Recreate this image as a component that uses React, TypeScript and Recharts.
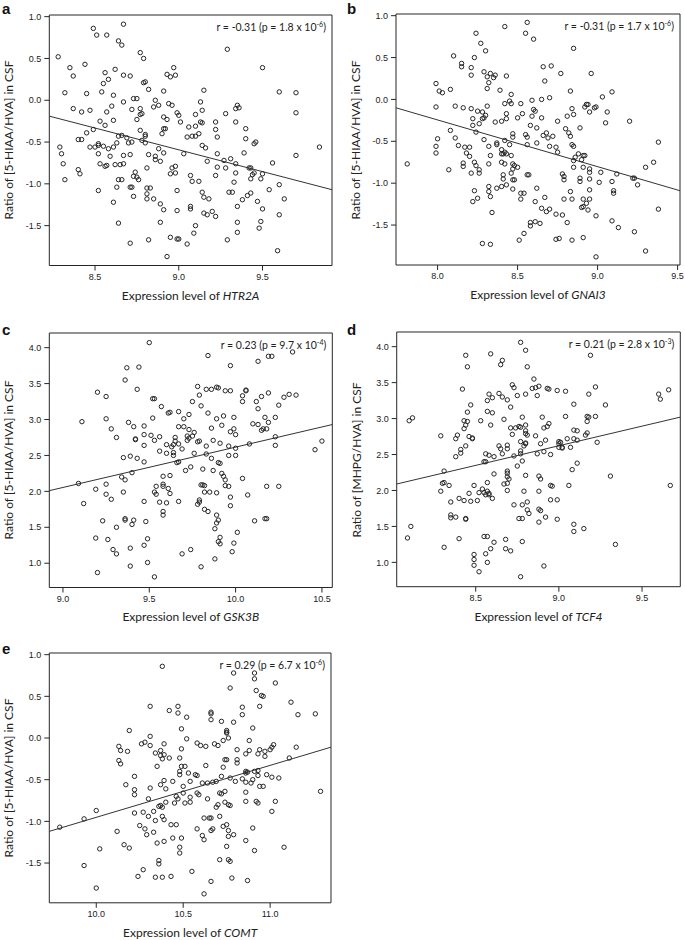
import React from 'react';
import { ScatterChart, Scatter, XAxis, YAxis, ReferenceArea, ReferenceLine } from 'recharts';

type Pt = [number, number];

// Panel a: HTR2A vs [5-HIAA/HVA]
const htr2aPoints: Pt[] = [
  [8.49,0.86],[8.51,0.78],[8.57,0.78],[8.67,0.91],[8.64,0.71],[8.66,0.66],[9.29,0.61],[8.77,0.57],[8.79,0.50],[8.28,0.52],
  [8.35,0.39],[8.44,0.43],[8.62,0.37],[9.50,0.39],[8.37,0.29],[8.56,0.33],[8.58,0.25],[8.67,0.30],[8.71,0.29],[8.55,0.20],
  [8.80,0.22],[8.79,0.21],[8.93,0.31],[8.95,0.28],[8.97,0.39],[8.98,0.30],[8.32,0.09],[8.45,0.08],[8.54,0.10],[8.61,0.06],
  [8.82,0.13],[8.91,0.11],[9.15,0.12],[9.60,0.10],[9.70,0.09],[8.73,0.02],[8.75,0.02],[8.86,0.00],[8.37,-0.10],[8.42,-0.14],
  [8.47,-0.12],[8.57,-0.14],[8.60,-0.07],[8.67,-0.02],[8.72,-0.11],[8.77,-0.10],[8.85,-0.08],[8.88,-0.06],[8.94,-0.04],[8.96,-0.06],
  [8.99,-0.15],[9.00,-0.18],[8.77,-0.17],[8.78,-0.16],[9.13,-0.02],[9.14,-0.12],[9.10,-0.17],[9.28,-0.16],[9.34,-0.10],[9.35,-0.06],
  [9.36,-0.09],[9.70,-0.15],[8.53,-0.25],[8.56,-0.30],[8.61,-0.24],[8.75,-0.23],[8.91,-0.20],[8.93,-0.23],[8.91,-0.34],[8.92,-0.34],
  [9.01,-0.26],[9.06,-0.32],[9.10,-0.31],[9.13,-0.26],[9.14,-0.27],[9.22,-0.26],[9.22,-0.35],[9.34,-0.26],[9.40,-0.34],[8.40,-0.47],
  [8.42,-0.47],[8.45,-0.39],[8.49,-0.35],[8.64,-0.43],[8.66,-0.42],[8.77,-0.36],[8.80,-0.41],[8.80,-0.43],[8.90,-0.40],[9.05,-0.44],
  [9.08,-0.43],[9.10,-0.43],[9.12,-0.40],[9.23,-0.44],[9.40,-0.46],[8.29,-0.56],[8.47,-0.56],[8.50,-0.56],[8.52,-0.54],[8.52,-0.52],
  [8.55,-0.55],[8.58,-0.58],[8.61,-0.56],[8.63,-0.51],[8.69,-0.45],[8.70,-0.51],[8.72,-0.50],[8.78,-0.48],[8.80,-0.51],[8.88,-0.58],
  [8.91,-0.63],[9.14,-0.54],[9.16,-0.57],[9.45,-0.52],[9.46,-0.50],[9.84,-0.56],[8.30,-0.64],[8.31,-0.76],[8.52,-0.64],[8.53,-0.76],
  [8.56,-0.79],[8.59,-0.67],[8.62,-0.77],[8.65,-0.77],[8.67,-0.66],[8.71,-0.65],[8.82,-0.65],[8.86,-0.67],[8.86,-0.71],[8.89,-0.73],
  [9.03,-0.64],[9.17,-0.73],[9.23,-0.64],[9.27,-0.72],[9.28,-0.81],[9.31,-0.70],[9.34,-0.76],[9.39,-0.63],[9.42,-0.81],[9.43,-0.81],
  [9.56,-0.75],[9.70,-0.66],[8.40,-0.83],[8.41,-0.88],[8.57,-0.78],[8.67,-0.76],[8.74,-0.86],[8.73,-0.91],[8.75,-0.92],[8.76,-0.95],
  [8.81,-0.81],[8.96,-0.81],[8.98,-0.87],[8.95,-0.88],[8.98,-0.79],[9.07,-0.90],[9.08,-0.97],[9.12,-0.97],[9.23,-0.80],[9.22,-0.90],
  [9.34,-0.87],[9.33,-0.98],[9.43,-0.94],[9.44,-0.89],[9.45,-0.87],[9.49,-0.94],[9.50,-0.88],[8.32,-0.95],[8.64,-0.95],[8.66,-0.95],
  [8.63,-1.04],[8.71,-1.04],[8.72,-1.04],[8.81,-1.05],[8.83,-1.05],[8.99,-1.08],[8.52,-1.08],[9.14,-1.10],[9.30,-1.10],[9.32,-1.10],
  [9.54,-1.07],[9.60,-1.01],[8.73,-1.15],[8.81,-1.18],[8.81,-1.12],[8.85,-1.18],[9.15,-1.16],[9.18,-1.18],[9.38,-1.19],[9.41,-1.14],
  [9.43,-1.11],[9.47,-1.21],[9.63,-1.18],[8.61,-1.22],[8.89,-1.24],[8.91,-1.31],[8.99,-1.32],[9.07,-1.30],[9.07,-1.27],[9.35,-1.27],
  [9.50,-1.30],[9.15,-1.35],[9.17,-1.37],[9.20,-1.33],[9.22,-1.39],[9.35,-1.46],[9.60,-1.37],[8.64,-1.47],[8.89,-1.46],[9.10,-1.50],
  [9.49,-1.45],[9.48,-1.53],[9.35,-1.58],[9.09,-1.59],[8.82,-1.67],[8.95,-1.64],[9.00,-1.66],[8.99,-1.66],[9.29,-1.67],[8.71,-1.71],
  [9.05,-1.72],[9.59,-1.80],[8.93,-1.87],
];

// Panel b: GNAI3 vs [5-HIAA/HVA]
const gnai3Points: Pt[] = [
  [8.56,0.92],[8.42,0.87],[8.55,0.79],[8.24,0.79],[8.60,0.72],[8.27,0.67],[8.85,0.61],[8.30,0.58],[8.10,0.52],[8.23,0.50],
  [8.15,0.43],[8.15,0.39],[8.21,0.38],[8.66,0.39],[8.71,0.40],[8.77,0.31],[8.96,0.31],[8.21,0.29],[8.29,0.33],[8.31,0.27],
  [8.33,0.31],[8.35,0.26],[8.36,0.29],[8.43,0.28],[8.32,0.20],[8.67,0.22],[7.99,0.19],[8.01,0.10],[8.03,0.08],[8.08,0.12],
  [8.31,0.13],[8.39,0.11],[8.83,0.10],[9.09,0.09],[9.03,0.03],[8.70,0.02],[8.65,0.00],[8.46,0.06],[8.59,-0.01],[7.99,-0.09],
  [8.11,-0.08],[8.16,-0.10],[8.21,-0.11],[8.25,-0.14],[8.31,-0.08],[8.42,-0.05],[8.45,-0.02],[8.46,-0.05],[8.52,-0.05],[8.60,-0.12],
  [8.61,-0.14],[8.84,-0.11],[8.92,-0.09],[8.93,-0.06],[8.94,-0.06],[8.99,-0.09],[8.98,-0.10],[9.06,-0.15],[8.95,-0.15],[9.20,-0.26],
  [9.05,-0.28],[8.28,-0.15],[8.29,-0.22],[8.22,-0.23],[8.22,-0.31],[8.26,-0.29],[8.30,-0.19],[8.28,-0.23],[8.43,-0.17],[8.50,-0.22],
  [8.53,-0.17],[8.59,-0.20],[8.65,-0.22],[8.81,-0.20],[8.85,-0.18],[8.43,-0.23],[8.36,-0.27],[8.40,-0.26],[8.58,-0.31],[8.62,-0.34],
  [8.75,-0.26],[8.89,-0.34],[8.80,-0.35],[8.82,-0.40],[8.08,-0.37],[8.24,-0.39],[8.00,-0.47],[8.11,-0.46],[8.29,-0.48],[8.47,-0.41],
  [8.47,-0.45],[8.42,-0.49],[8.37,-0.52],[8.37,-0.54],[8.55,-0.42],[8.56,-0.45],[8.66,-0.43],[8.68,-0.40],[8.69,-0.46],[8.72,-0.44],
  [8.83,-0.44],[7.99,-0.56],[7.99,-0.64],[8.13,-0.55],[8.17,-0.57],[8.20,-0.57],[8.18,-0.64],[8.20,-0.68],[8.32,-0.56],[8.40,-0.60],
  [8.40,-0.65],[8.41,-0.65],[8.42,-0.63],[8.43,-0.65],[8.45,-0.54],[8.46,-0.67],[8.56,-0.54],[8.62,-0.52],[8.70,-0.56],[8.74,-0.57],
  [8.75,-0.63],[8.84,-0.54],[8.85,-0.56],[8.88,-0.65],[8.86,-0.69],[8.91,-0.67],[8.85,-0.73],[8.90,-0.72],[8.92,-0.67],[8.33,-0.67],
  [8.23,-0.75],[8.24,-0.79],[8.16,-0.76],[8.16,-0.80],[8.07,-0.84],[8.21,-0.88],[8.26,-0.88],[8.26,-0.84],[8.32,-0.77],[8.40,-0.75],
  [8.42,-0.77],[8.47,-0.77],[8.48,-0.79],[8.50,-0.81],[8.47,-0.83],[8.46,-0.88],[8.47,-0.96],[8.48,-0.96],[8.41,-0.90],[8.41,-0.95],
  [8.56,-0.90],[8.57,-0.90],[8.78,-0.89],[8.79,-0.92],[8.79,-0.96],[8.85,-0.81],[8.91,-0.81],[8.95,-0.83],[8.95,-0.87],[8.95,-0.95],
  [8.89,-0.94],[8.89,-0.98],[9.01,-0.99],[9.02,-0.87],[7.81,-0.77],[8.32,-1.04],[8.32,-1.10],[8.37,-1.06],[8.40,-1.04],[8.43,-1.02],
  [8.47,-1.07],[8.52,-1.12],[8.54,-1.12],[8.62,-1.06],[8.83,-1.10],[8.95,-1.08],[9.09,-0.98],[9.10,-1.09],[9.10,-1.12],[9.12,-0.89],
  [9.22,-0.94],[9.23,-0.94],[9.25,-1.02],[9.30,-0.81],[9.35,-0.75],[9.38,-0.51],[8.23,-1.09],[8.22,-1.22],[8.25,-1.18],[8.33,-1.16],
  [8.52,-1.19],[8.61,-1.22],[8.67,-1.17],[8.79,-1.19],[8.84,-1.19],[8.91,-1.19],[8.95,-1.19],[8.93,-1.24],[8.90,-1.29],[8.91,-1.28],
  [8.94,-1.32],[8.99,-1.39],[8.65,-1.30],[8.68,-1.34],[8.70,-1.31],[8.74,-1.37],[8.78,-1.38],[9.38,-1.31],[8.34,-1.35],[8.58,-1.47],
  [8.61,-1.46],[8.64,-1.48],[8.58,-1.51],[8.81,-1.47],[9.09,-1.45],[9.13,-1.53],[9.23,-1.58],[8.54,-1.60],[8.51,-1.68],[8.74,-1.67],
  [8.76,-1.66],[8.84,-1.68],[8.91,-1.65],[8.28,-1.72],[8.33,-1.73],[9.30,-1.81],[8.99,-1.88],
];

// Panel c: GSK3B vs [5-HIAA/HVA]
const gsk3bPoints: Pt[] = [
  [9.50,4.07],[9.84,3.89],[10.19,3.88],[10.21,3.88],[10.33,3.94],[9.37,3.72],[9.44,3.73],[9.97,3.75],[10.13,3.81],[9.36,3.55],
  [9.20,3.38],[9.25,3.32],[9.43,3.42],[9.52,3.29],[9.53,3.29],[9.79,3.34],[9.78,3.46],[9.83,3.42],[9.86,3.42],[9.89,3.45],
  [9.90,3.44],[9.94,3.40],[9.97,3.40],[10.06,3.40],[10.06,3.41],[10.04,3.33],[10.04,3.25],[10.12,3.25],[10.15,3.32],[10.19,3.37],
  [10.28,3.31],[10.31,3.35],[10.35,3.34],[9.75,3.25],[9.57,3.18],[9.61,3.09],[9.62,3.10],[9.67,3.11],[9.73,3.07],[9.80,3.19],
  [9.84,3.09],[9.11,2.97],[9.25,3.01],[9.52,3.02],[9.38,2.96],[9.47,2.91],[9.41,2.90],[9.28,2.87],[9.31,2.75],[9.42,2.72],
  [9.47,2.79],[9.70,3.01],[9.67,2.90],[9.70,2.90],[9.86,2.88],[9.89,3.01],[9.93,3.05],[9.92,2.92],[9.99,3.03],[9.99,2.87],
  [9.97,2.83],[10.00,2.79],[10.10,2.94],[10.13,2.93],[10.17,3.03],[10.19,2.96],[10.13,3.15],[10.15,2.85],[10.16,2.87],[10.18,2.87],
  [10.25,3.20],[10.23,3.03],[10.23,2.76],[10.23,2.64],[10.08,2.66],[10.46,2.58],[10.50,2.70],[9.51,2.78],[9.42,2.73],[9.47,2.64],
  [9.35,2.47],[9.39,2.49],[9.43,2.46],[9.47,2.41],[9.53,2.71],[9.56,2.76],[9.60,2.65],[9.56,2.56],[9.60,2.53],[9.63,2.62],
  [9.64,2.65],[9.65,2.75],[9.65,2.70],[9.64,2.54],[9.64,2.50],[9.66,2.40],[9.67,2.41],[9.67,2.66],[9.69,2.59],[9.72,2.77],
  [9.72,2.71],[9.73,2.74],[9.73,2.86],[9.75,2.77],[9.76,2.82],[9.79,2.70],[9.78,2.69],[9.76,2.53],[9.83,2.63],[9.83,2.52],
  [9.87,2.71],[9.86,2.46],[9.91,2.67],[9.90,2.40],[9.91,2.39],[9.96,2.63],[9.96,2.50],[10.00,2.60],[10.00,2.50],[9.81,2.31],
  [9.71,2.29],[9.74,2.34],[9.87,2.29],[9.09,2.11],[9.12,1.83],[9.25,2.10],[9.19,2.03],[9.25,1.96],[9.28,1.89],[9.34,2.20],
  [9.36,2.16],[9.40,2.26],[9.35,1.99],[9.47,1.86],[9.53,1.99],[9.54,1.96],[9.54,2.07],[9.58,2.07],[9.58,2.10],[9.58,2.21],
  [9.61,2.04],[9.62,2.22],[9.62,1.97],[9.56,1.85],[9.60,1.84],[9.58,1.72],[9.58,1.67],[9.67,1.86],[9.80,2.09],[9.81,2.09],
  [9.82,2.08],[9.82,1.99],[9.85,1.99],[9.79,1.85],[9.79,1.88],[9.78,1.82],[9.82,1.75],[9.84,1.72],[9.92,2.25],[9.93,2.21],
  [9.94,2.16],[9.94,2.08],[9.96,2.07],[9.89,1.98],[9.97,1.92],[9.97,1.80],[10.04,2.18],[10.07,1.95],[10.18,2.07],[10.25,2.07],
  [9.89,1.67],[9.90,1.60],[9.89,1.56],[9.88,1.48],[10.17,1.62],[10.18,1.62],[10.11,1.59],[10.01,1.43],[9.23,1.59],[9.36,1.62],
  [9.36,1.60],[9.41,1.60],[9.40,1.54],[9.31,1.50],[9.48,1.58],[9.19,1.35],[9.26,1.33],[9.49,1.34],[9.47,1.25],[9.29,1.19],
  [9.31,1.13],[9.39,1.21],[9.69,1.13],[9.74,1.19],[9.91,1.36],[9.90,1.30],[9.91,1.27],[9.99,1.28],[9.98,1.16],[9.88,1.06],
  [9.39,0.96],[9.49,1.01],[9.20,0.87],[9.80,0.95],[9.53,0.81],
];

// Panel d: TCF4 vs [MHPG/HVA]
const tcf4Points: Pt[] = [
  [8.77,4.06],[8.44,3.88],[8.59,3.90],[8.80,3.95],[9.19,3.88],[8.45,3.72],[8.81,3.72],[8.66,3.81],[8.65,3.75],[8.42,3.41],
  [8.72,3.47],[8.73,3.43],[8.85,3.55],[8.84,3.42],[8.86,3.43],[8.88,3.45],[8.87,3.32],[8.93,3.42],[8.94,3.41],[8.99,3.39],
  [9.04,3.38],[9.22,3.44],[9.18,3.34],[8.58,3.34],[8.64,3.35],[8.66,3.30],[8.60,3.29],[8.57,3.25],[8.80,3.34],[8.75,3.32],
  [8.69,3.26],[9.60,3.34],[9.61,3.27],[9.66,3.40],[8.47,3.19],[9.28,3.19],[9.09,3.20],[8.71,3.16],[8.57,3.10],[8.60,3.08],
  [8.59,2.91],[8.53,2.97],[8.43,2.97],[8.45,2.96],[8.10,2.97],[8.12,3.01],[8.29,2.76],[8.30,2.10],[8.31,2.11],[8.29,1.99],
  [8.31,2.27],[8.31,1.21],[8.34,2.07],[8.35,1.84],[8.35,1.66],[8.35,1.62],[8.38,1.63],[8.40,1.33],[8.38,2.72],[8.38,2.47],
  [8.39,2.77],[8.41,2.52],[8.40,1.89],[8.41,2.57],[8.43,2.86],[8.44,2.91],[8.43,1.86],[8.44,1.60],[8.44,1.61],[8.44,2.62],
  [8.45,3.09],[8.46,2.75],[8.48,2.73],[8.48,2.72],[8.46,1.96],[8.47,1.85],[8.49,1.11],[8.49,1.04],[8.49,0.96],[8.52,0.87],
  [8.49,2.07],[8.51,1.86],[8.52,1.97],[8.54,2.02],[8.55,1.97],[8.56,1.94],[8.57,1.99],[8.55,1.36],[8.57,1.36],[8.56,1.12],
  [8.57,1.00],[8.59,1.19],[8.61,1.28],[8.55,2.40],[8.56,2.40],[8.56,2.51],[8.58,2.49],[8.57,2.11],[8.58,1.96],[8.58,1.94],
  [8.60,1.89],[8.61,2.47],[8.61,2.23],[8.64,2.62],[8.65,2.58],[8.66,2.51],[8.67,2.09],[8.67,2.99],[8.69,2.63],[8.69,2.58],
  [8.69,2.27],[8.69,2.24],[8.69,2.19],[8.70,2.16],[8.69,2.00],[8.69,2.10],[8.68,1.32],[8.68,1.19],[8.71,1.16],[8.71,2.87],
  [8.72,2.78],[8.74,2.87],[8.73,2.48],[8.75,2.34],[8.76,2.89],[8.77,2.68],[8.77,2.55],[8.77,2.51],[8.77,2.88],[8.78,3.02],
  [8.73,1.80],[8.76,1.61],[8.78,1.61],[8.78,1.80],[8.78,1.29],[8.77,0.80],[8.79,2.62],[8.78,2.41],[8.79,1.99],[8.80,2.91],
  [8.80,2.83],[8.80,2.79],[8.81,2.77],[8.80,2.66],[8.80,2.65],[8.80,2.21],[8.81,1.84],[8.81,1.73],[8.82,1.68],[8.86,2.76],
  [8.87,2.51],[8.88,1.74],[8.88,1.56],[8.89,2.65],[8.88,2.20],[8.89,2.16],[8.88,1.99],[8.89,1.72],[8.90,3.02],[8.91,2.87],
  [8.92,2.70],[8.91,2.54],[8.92,1.63],[8.91,0.95],[8.93,2.89],[8.94,2.93],[8.95,2.50],[8.95,2.07],[8.96,2.06],[8.95,1.87],
  [8.99,1.87],[8.99,1.60],[9.00,2.60],[9.00,2.65],[9.00,2.68],[9.01,2.67],[9.02,2.60],[9.02,2.59],[9.04,3.03],[9.05,2.72],
  [9.06,2.07],[9.07,2.60],[9.08,2.29],[9.09,2.84],[9.09,2.72],[9.09,1.53],[9.09,1.43],[9.11,2.38],[9.11,2.83],[9.11,2.70],
  [9.15,1.47],[9.16,2.77],[9.17,2.80],[9.17,2.96],[9.17,3.03],[9.18,3.02],[9.22,3.03],[9.23,2.67],[9.31,2.20],[9.34,1.25],
  [9.67,2.07],[8.09,1.34],[8.11,1.50],
];

// Panel e: COMT vs [5-HIAA/HVA]
const comtPoints: Pt[] = [
  [10.38,0.86],[10.79,0.78],[10.91,0.78],[10.91,0.71],[10.77,0.60],[11.03,0.66],[10.92,0.57],[10.95,0.51],[10.96,0.50],[11.12,0.43],
  [10.84,0.37],[10.94,0.38],[11.16,0.28],[11.26,0.29],[10.31,0.38],[10.42,0.33],[10.47,0.38],[10.52,0.25],[10.47,0.30],[10.66,0.29],
  [10.66,0.31],[10.66,0.22],[10.72,0.20],[10.79,0.19],[10.84,0.28],[10.19,0.09],[10.49,0.11],[10.52,-0.01],[10.60,-0.09],[10.68,-0.07],
  [10.70,-0.09],[10.76,0.00],[10.73,-0.03],[10.75,0.06],[10.75,0.09],[10.75,0.07],[10.88,-0.03],[10.90,0.12],[10.31,0.02],[10.31,-0.09],
  [10.26,-0.07],[10.28,-0.05],[10.39,-0.07],[10.58,-0.06],[10.63,-0.10],[10.81,-0.14],[10.86,-0.19],[10.88,-0.15],[10.93,-0.19],[10.94,-0.14],
  [10.97,-0.22],[10.97,-0.16],[11.01,-0.11],[11.02,-0.08],[11.00,-0.14],[11.11,-0.24],[11.15,-0.11],[10.13,-0.10],[10.14,-0.15],[10.18,-0.16],
  [10.13,-0.27],[10.14,-0.31],[10.34,-0.18],[10.37,-0.15],[10.37,-0.21],[10.39,-0.20],[10.38,-0.25],[10.42,-0.24],[10.35,-0.34],[10.49,-0.13],
  [10.48,-0.24],[10.49,-0.34],[10.51,-0.34],[10.48,-0.40],[10.48,-0.44],[10.63,-0.33],[10.73,-0.35],[10.74,-0.26],[10.75,-0.26],[10.81,-0.30],
  [10.81,-0.26],[10.86,-0.40],[10.87,-0.41],[10.91,-0.40],[10.93,-0.39],[10.93,-0.45],[10.98,-0.44],[11.01,-0.47],[11.05,-0.48],[10.17,-0.56],
  [10.22,-0.46],[10.31,-0.60],[10.37,-0.56],[10.39,-0.51],[10.40,-0.61],[10.44,-0.52],[10.50,-0.58],[10.50,-0.66],[10.53,-0.42],[10.54,-0.52],
  [10.57,-0.44],[10.58,-0.45],[10.61,-0.54],[10.64,-0.54],[10.67,-0.53],[10.69,-0.52],[10.72,-0.46],[10.77,-0.48],[10.80,-0.52],[10.84,-0.49],
  [10.86,-0.42],[10.86,-0.53],[10.89,-0.54],[10.90,-0.50],[10.94,-0.58],[10.96,-0.58],[11.29,-0.64],[11.03,-0.76],[9.79,-1.07],[9.93,-0.97],
  [10.00,-0.87],[10.22,-0.68],[10.22,-0.62],[10.27,-0.89],[10.30,-0.73],[10.33,-0.88],[10.36,-0.82],[10.37,-0.81],[10.38,-0.83],[10.40,-0.77],
  [10.45,-0.78],[10.46,-0.70],[10.47,-0.73],[10.51,-0.78],[10.54,-0.77],[10.54,-0.71],[10.58,-0.66],[10.59,-0.68],[10.64,-0.73],[10.69,-0.83],
  [10.70,-0.80],[10.71,-0.66],[10.72,-0.67],[10.74,-0.64],[10.74,-0.77],[10.76,-0.80],[10.77,-0.81],[10.86,-0.65],[10.86,-0.76],[10.92,-0.76],
  [10.93,-0.78],[11.01,-0.88],[10.12,-1.12],[10.16,-1.28],[10.19,-1.32],[10.22,-0.90],[10.25,-1.05],[10.28,-1.09],[10.29,-1.16],[10.30,-0.94],
  [10.33,-1.13],[10.34,-0.99],[10.35,-1.26],[10.38,-0.94],[10.39,-0.98],[10.39,-1.24],[10.43,-1.04],[10.44,-1.20],[10.49,-1.20],[10.48,-1.31],
  [10.48,-1.38],[10.46,-1.04],[10.58,-1.09],[10.61,-1.17],[10.62,-1.22],[10.66,-1.11],[10.67,-1.09],[10.62,-0.96],[10.65,-0.96],[10.66,-0.96],
  [10.71,-0.94],[10.73,-1.06],[10.75,-1.04],[10.76,-1.11],[10.76,-1.18],[10.79,-1.16],[10.75,-1.30],[10.71,-1.46],[10.76,-1.46],[10.77,-1.48],
  [10.86,-1.23],[10.90,-1.08],[10.91,-1.35],[11.08,-1.31],[9.93,-1.53],[10.02,-1.33],[10.00,-1.80],[10.24,-1.66],[10.27,-1.58],[10.36,-1.47],
  [10.36,-1.51],[10.34,-1.67],[10.38,-1.67],[10.43,-1.66],[10.55,-1.60],[10.66,-1.72],[10.78,-1.68],[10.87,-1.71],[10.62,-1.87],
];

// Axis ticks
const ticksRatioLow = [-1.5, -1.0, -0.5, 0.0, 0.5, 1.0];
const ticksRatioHigh = [1.0, 1.5, 2.0, 2.5, 3.0, 3.5, 4.0];
const ticksHTR2A = [8.5, 9.0, 9.5];
const ticksGNAI3 = [8.0, 8.5, 9.0, 9.5];
const ticksGSK3B = [9.0, 9.5, 10.0, 10.5];
const ticksTCF4 = [8.5, 9.0, 9.5];
const ticksCOMT = [10.0, 10.5, 11.0];

// Axis domains
const domainHTR2A: Pt = [8.227, 9.915];
const domainGNAI3: Pt = [7.74, 9.515];
const domainGSK3B: Pt = [8.921, 10.56];
const domainTCF4: Pt = [8.025, 9.73];
const domainCOMT: Pt = [9.73, 11.35];
const domainRatioLow: Pt = [-1.977, 1.02];
const domainRatioHigh: Pt = [0.662, 4.204];

// Fitted regression line end values (y at domain ends)
const fitHTR2A: Pt = [-0.19, -1.07];
const fitGNAI3: Pt = [-0.10, -1.09];
const fitGSK3B: Pt = [2.01, 2.93];
const fitTCF4: Pt = [2.09, 3.02];
const fitCOMT: Pt = [-1.12, -0.11];

// Correlation annotations: [r, p mantissa, p exponent]
const statsHTR2A = ['-0.31', '1.8', '-6'];
const statsGNAI3 = ['-0.31', '1.7', '-6'];
const statsGSK3B = ['0.23', '9.7', '-4'];
const statsTCF4 = ['0.21', '2.8', '-3'];
const statsCOMT = ['0.29', '6.7', '-6'];

interface Box { x0: number; x1: number; y0: number; y1: number; }
interface Spec {
  letter: string; gene: string; yLabel: string; points: Pt[];
  xDomain: Pt; yDomain: Pt; xTicks: number[]; yTicks: number[];
  fit: Pt; stats: string[]; box: Box; col: 0 | 1; letterTop: number;
}

const INK = '#262626';
const tickFont = '"Liberation Sans", Arial, sans-serif';
const labelFont = 'Lato, "Open Sans", sans-serif';

const Ring = (props: any) => {
  const { cx, cy } = props;
  if (cx == null || cy == null) return null;
  return <circle cx={cx} cy={cy} r={2.2} fill="none" stroke={INK} strokeWidth={1} />;
};

function Panel({ s }: { s: Spec }) {
  const colLeft = s.col === 0 ? 0 : 345;
  const colWidth = s.col === 0 ? 345 : 340;
  const mTop = 15;
  const xAxisH = 40;
  const top = s.box.y0 - mTop;
  const height = s.box.y1 - s.box.y0 + mTop + xAxisH;
  const yAxisW = s.box.x0 - colLeft;
  const mRight = colLeft + colWidth - s.box.x1;
  const data = s.points.map(([x, y]) => ({ x, y }));
  const cx = (s.box.x0 + s.box.x1) / 2;
  const cy = (s.box.y0 + s.box.y1) / 2;
  return (
    <>
      <div style={{ position: 'absolute', left: colLeft, top, width: colWidth, height }}>
        <ScatterChart width={colWidth} height={height} margin={{ top: mTop, right: mRight, bottom: 0, left: 0 }}>
          <XAxis
            type="number" dataKey="x" domain={s.xDomain} ticks={s.xTicks} allowDataOverflow interval={0}
            axisLine={false} tickLine={{ stroke: INK }} tickSize={5} tickMargin={3} height={xAxisH}
            tick={{ fontSize: 9, fill: '#222', fontFamily: tickFont }} tickFormatter={(v: number) => v.toFixed(1)}
          />
          <YAxis
            type="number" dataKey="y" domain={s.yDomain} ticks={s.yTicks} allowDataOverflow interval={0}
            axisLine={false} tickLine={{ stroke: INK }} tickSize={5} tickMargin={3} width={yAxisW}
            tick={{ fontSize: 9, fill: '#222', fontFamily: tickFont }} tickFormatter={(v: number) => v.toFixed(1)}
          />
          <ReferenceArea x1={s.xDomain[0]} x2={s.xDomain[1]} y1={s.yDomain[0]} y2={s.yDomain[1]}
            fill="none" fillOpacity={0} stroke={INK} strokeWidth={1} ifOverflow="visible" />
          <ReferenceLine segment={[{ x: s.xDomain[0], y: s.fit[0] }, { x: s.xDomain[1], y: s.fit[1] }]}
            stroke="#333" strokeWidth={1} ifOverflow="visible" />
          <Scatter data={data} shape={Ring} isAnimationActive={false} />
        </ScatterChart>
      </div>
      <div style={{ position: 'absolute', left: colLeft + 2, top: s.letterTop, fontFamily: '"Liberation Sans", Arial, sans-serif', fontWeight: 'bold', fontSize: 15, lineHeight: '16px', color: '#111' }}>
        {s.letter}
      </div>
      <div style={{ position: 'absolute', right: 685 - (s.box.x1 - 6), top: s.box.y0 + 5, fontFamily: labelFont, fontSize: 10.5, lineHeight: '14px', color: '#222', whiteSpace: 'nowrap' }}>
        r = {s.stats[0]} (p = {s.stats[1]} x 10<sup style={{ fontSize: 7, verticalAlign: 'top', lineHeight: '8px' }}>{s.stats[2]}</sup>)
      </div>
      <div style={{ position: 'absolute', left: cx, top: s.box.y1 + 29, transform: 'translate(-50%, -50%)', fontFamily: labelFont, fontSize: 12, color: '#222', whiteSpace: 'nowrap' }}>
        Expression level of <i>{s.gene}</i>
      </div>
      <div style={{ position: 'absolute', left: s.box.x0 - 41, top: cy, transform: 'translate(-50%, -50%) rotate(-90deg)', fontFamily: labelFont, fontSize: 12, color: '#222', whiteSpace: 'nowrap' }}>
        {s.yLabel}
      </div>
    </>
  );
}

const specs: Spec[] = [
  { letter: 'a', gene: 'HTR2A', yLabel: 'Ratio of [5-HIAA/HVA] in CSF', points: htr2aPoints, xDomain: domainHTR2A, yDomain: domainRatioLow,
    xTicks: ticksHTR2A, yTicks: ticksRatioLow, fit: fitHTR2A, stats: statsHTR2A, box: { x0: 49.3, x1: 332, y0: 15, y1: 265.5 }, col: 0, letterTop: 1 },
  { letter: 'b', gene: 'GNAI3', yLabel: 'Ratio of [5-HIAA/HVA] in CSF', points: gnai3Points, xDomain: domainGNAI3, yDomain: domainRatioLow,
    xTicks: ticksGNAI3, yTicks: ticksRatioLow, fit: fitGNAI3, stats: statsGNAI3, box: { x0: 396, x1: 680, y0: 14.3, y1: 265.3 }, col: 1, letterTop: 1 },
  { letter: 'c', gene: 'GSK3B', yLabel: 'Ratio of [5-HIAA/HVA] in CSF', points: gsk3bPoints, xDomain: domainGSK3B, yDomain: domainRatioHigh,
    xTicks: ticksGSK3B, yTicks: ticksRatioHigh, fit: fitGSK3B, stats: statsGSK3B, box: { x0: 49.3, x1: 332.3, y0: 332.7, y1: 587.2 }, col: 0, letterTop: 322 },
  { letter: 'd', gene: 'TCF4', yLabel: 'Ratio of [MHPG/HVA] in CSF', points: tcf4Points, xDomain: domainTCF4, yDomain: domainRatioHigh,
    xTicks: ticksTCF4, yTicks: ticksRatioHigh, fit: fitTCF4, stats: statsTCF4, box: { x0: 396.7, x1: 680.3, y0: 332.3, y1: 587 }, col: 1, letterTop: 322 },
  { letter: 'e', gene: 'COMT', yLabel: 'Ratio of [5-HIAA/HVA] in CSF', points: comtPoints, xDomain: domainCOMT, yDomain: domainRatioLow,
    xTicks: ticksCOMT, yTicks: ticksRatioLow, fit: fitCOMT, stats: statsCOMT, box: { x0: 49.3, x1: 331, y0: 652.7, y1: 902.5 }, col: 0, letterTop: 641 },
];

export default function App() {
  return (
    <div style={{ position: 'absolute', left: 0, top: 0, width: 685, height: 940, background: '#fff', overflow: 'hidden' }}>
      {specs.map((s) => <Panel key={s.letter} s={s} />)}
    </div>
  );
}
